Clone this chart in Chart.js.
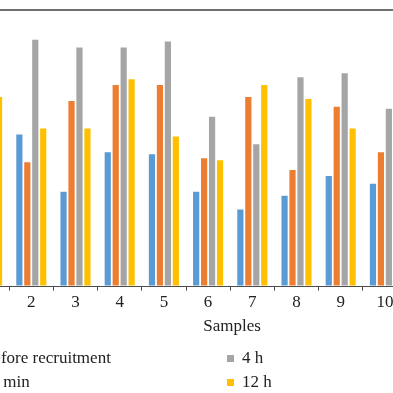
<!DOCTYPE html>
<html>
<head>
<meta charset="utf-8">
<script src="https://cdn.jsdelivr.net/npm/chart.js@4.4.1/dist/chart.umd.min.js"></script>
<style>
  html, body { margin: 0; padding: 0; width: 393px; height: 393px; overflow: hidden; background: #fff; }
  body { position: relative; font-family: "Liberation Serif", serif; color: #222; }
  #wrap { position: absolute; left: -35px; top: 0; width: 442px; height: 393px; }
  #xTitle { position: absolute; left: 182px; top: 316px; width: 100px; text-align: center; font-size: 17px; line-height: 20px; }
  #legend { position: absolute; left: -33px; top: 346px; width: 400px; }
  .item { position: absolute; font-size: 17px; line-height: 24px; white-space: nowrap; }
  .item i { display: inline-block; width: 7px; height: 7px; margin-right: 8px; vertical-align: 1px; }
</style>
</head>
<body>
<div id="wrap"><canvas id="barChart"></canvas></div>
<div id="xTitle">Samples</div>
<div id="legend"></div>
<script>
// Grouped bars — values per sample at each time point (axis units unknown)
const samples = ["1", "2", "3", "4", "5", "6", "7", "8", "9", "10"];
const seriesNames = ["Before recruitment", "30 min", "4 h", "12 h"];
const seriesColors = ["#5B9BD5", "#ED7D31", "#A5A5A5", "#FFC000"];

const beforeRecruitment = [70, 77, 48, 68, 67, 48, 39, 46, 56, 52];
const after30min = [60, 63, 94, 102, 102, 65, 96, 59, 91, 68];
const after4h = [110, 125, 121, 121, 124, 86, 72, 106, 108, 90];
const after12h = [96, 80, 80, 105, 76, 64, 102, 95, 80, 75];

const yMax = 140;

const seriesData = [beforeRecruitment, after30min, after4h, after12h];

const barChart = new Chart(document.getElementById("barChart"), {
  type: "bar",
  data: {
    labels: samples,
    datasets: seriesData.map((d, i) => ({
      label: seriesNames[i],
      data: d,
      backgroundColor: seriesColors[i],
      borderWidth: 0,
      barPercentage: 0.78,
      categoryPercentage: 0.72,
    })),
  },
  options: {
    responsive: true,
    maintainAspectRatio: false,
    animation: false,
    layout: { padding: { top: 10, bottom: 78, left: 0, right: 0 } },
    scales: {
      x: {
        offset: true,
        grid: {
          offset: true,
          drawOnChartArea: false,
          drawTicks: true,
          tickLength: 4,
          color: "#4d4d4d",
        },
        border: { color: "#4d4d4d", width: 1 },
        ticks: {
          color: "#222",
          padding: 2,
          font: { family: "Liberation Serif", size: 17 },
        },
      },
      y: {
        min: 0,
        max: yMax,
        ticks: { display: false, stepSize: 20 },
        grid: {
          drawTicks: false,
          lineWidth: 2,
          color: (ctx) => (ctx.tick && ctx.tick.value === yMax ? "#707070" : "rgba(0,0,0,0)"), // only the top frame line
        },
        border: { display: false },
      },
    },
    plugins: {
      legend: { display: false },
      tooltip: { enabled: false },
    },
  },
});

// Legend in two columns, like the original figure
const legend = document.getElementById("legend");
const spots = [[0, 0], [0, 24], [260, 0], [260, 24]];
barChart.data.datasets.forEach((ds, i) => {
  const el = document.createElement("div");
  el.className = "item";
  el.style.left = spots[i][0] + "px";
  el.style.top = spots[i][1] + "px";
  el.innerHTML = '<i style="background:' + ds.backgroundColor + '"></i>' + ds.label;
  legend.appendChild(el);
});
</script>
</body>
</html>
